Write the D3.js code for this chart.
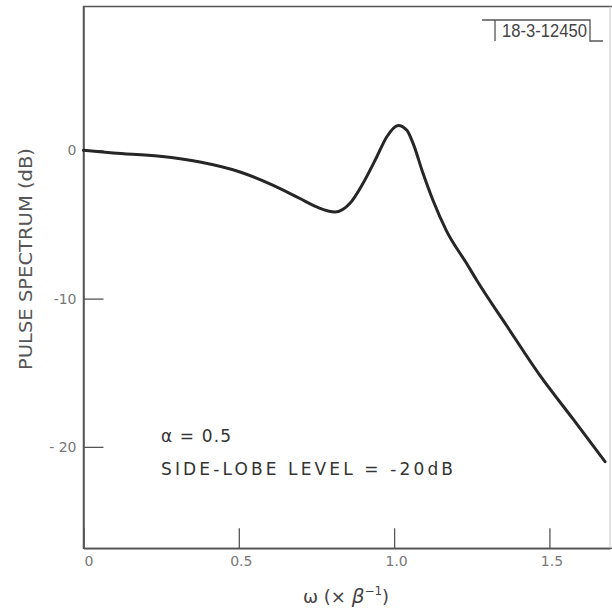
<!DOCTYPE html>
<html>
<head>
<meta charset="utf-8">
<script src="https://cdn.jsdelivr.net/npm/d3@7"></script>
<style>
  body { margin: 0; background: #fff; }
  svg { display: block; }
</style>
</head>
<body>
<svg id="chart" width="612" height="611"></svg>
<script>
// values
const omega = [0, 0.096, 0.246, 0.375, 0.504, 0.611, 0.697, 0.751, 0.81, 0.858, 0.9, 0.944, 0.976, 1.013, 1.041, 1.061, 1.093, 1.125, 1.169, 1.234, 1.266, 1.363, 1.47, 1.577, 1.679];
const spectrum = [0, -0.18, -0.4, -0.79, -1.46, -2.36, -3.25, -3.82, -4.16, -3.57, -2.22, -0.45, 0.9, 1.68, 1.35, 0.47, -1.55, -3.37, -5.45, -7.65, -8.76, -11.85, -15.2, -18.15, -21.0];

const xTicks = [0, 0.5, 1.0, 1.5];
const xTickLabels = ["0", "0.5", "1.0", "1.5"];
const yTicks = [0, -10, -20];
const yTickLabels = ["0", "-10", "- 20"];

const svg = d3.select("#chart");
const width = 612, height = 611;
const font = "DejaVu Sans, sans-serif";

const x = d3.scaleLinear().domain([0, 1.695]).range([83.5, 610]);
const y = d3.scaleLinear().domain([-26.84, 9.7]).range([548.3, 6.5]);

const axisColor = "#555";

// frame of the plot (its right side runs off the page)
svg.append("rect")
  .attr("x", x(0))
  .attr("y", y(9.7))
  .attr("width", 700)
  .attr("height", y(-26.84) - y(9.7))
  .attr("fill", "none")
  .attr("stroke", axisColor)
  .attr("stroke-width", 1.5);
svg.append("line")
  .attr("x1", x(1.695)).attr("x2", x(1.695))
  .attr("y1", y(9.7)).attr("y2", y(-26.84))
  .attr("stroke", "#c8c8c8")
  .attr("stroke-width", 1);

// x axis, ticks pointing up into the plot
const xAxis = d3.axisBottom(x)
  .tickValues(xTicks)
  .tickFormat((d, i) => xTickLabels[i])
  .tickSizeInner(-20)
  .tickSizeOuter(0)
  .tickPadding(8);

const gx = svg.append("g")
  .attr("transform", `translate(0,${y(-26.84)})`)
  .call(xAxis);
gx.select(".domain").attr("stroke", axisColor).attr("stroke-width", 1.5);
gx.selectAll(".tick line").attr("stroke", axisColor).attr("stroke-width", 1.3);
gx.selectAll(".tick text")
  .attr("font-family", font)
  .attr("font-size", 14)
  .attr("fill", "#777")
  .attr("dx", (d, i) => i === 0 ? 5 : 2);

// y axis, ticks pointing right into the plot
const yAxis = d3.axisLeft(y)
  .tickValues(yTicks)
  .tickFormat((d, i) => yTickLabels[i])
  .tickSizeInner(-20)
  .tickSizeOuter(0)
  .tickPadding(7);

const gy = svg.append("g")
  .attr("transform", `translate(${x(0)},0)`)
  .call(yAxis);
gy.select(".domain").attr("stroke", axisColor).attr("stroke-width", 1.5);
gy.selectAll(".tick line").attr("stroke", axisColor).attr("stroke-width", 1.3);
gy.selectAll(".tick text")
  .attr("font-family", font)
  .attr("font-size", 14)
  .attr("fill", "#777");

// the spectrum curve
const points = omega.map((w, i) => [w, spectrum[i]]);
const line = d3.line()
  .x(d => x(d[0]))
  .y(d => y(d[1]))
  .curve(d3.curveMonotoneX);

svg.append("path")
  .datum(points)
  .attr("d", line)
  .attr("fill", "none")
  .attr("stroke", "#262626")
  .attr("stroke-width", 3)
  .attr("stroke-linejoin", "round")
  .attr("stroke-linecap", "round");

// axis titles
svg.append("text")
  .attr("transform", `translate(32,259) rotate(-90)`)
  .attr("text-anchor", "middle")
  .attr("font-family", font)
  .attr("font-size", 18)
  .attr("fill", "#555")
  .attr("textLength", 222)
  .attr("lengthAdjust", "spacingAndGlyphs")
  .text("PULSE SPECTRUM  (dB)");

const xt = svg.append("text")
  .attr("x", 303)
  .attr("y", 603)
  .attr("font-family", font)
  .attr("font-size", 18)
  .attr("fill", "#444");
xt.append("tspan").text("ω  (× ");
xt.append("tspan").attr("font-style", "italic").attr("font-size", 20).text("β");
xt.append("tspan").attr("font-size", 12).attr("dy", -8).text("−1");
xt.append("tspan").attr("dy", 8).text(")");

// annotations
svg.append("text")
  .attr("x", 161)
  .attr("y", 442)
  .attr("font-family", font)
  .attr("font-size", 17)
  .attr("fill", "#333")
  .attr("textLength", 70)
  .attr("lengthAdjust", "spacing")
  .text("α = 0.5");

svg.append("text")
  .attr("x", 161)
  .attr("y", 475)
  .attr("font-family", font)
  .attr("font-size", 17)
  .attr("fill", "#333")
  .attr("textLength", 292)
  .attr("lengthAdjust", "spacing")
  .text("SIDE-LOBE LEVEL = -20dB");

// figure number box
svg.append("path")
  .attr("d", "M482,20 H590 V41 H603 M495,20 V41")
  .attr("fill", "none")
  .attr("stroke", "#555")
  .attr("stroke-width", 1.3);

svg.append("text")
  .attr("x", 502)
  .attr("y", 37)
  .attr("font-family", "Liberation Sans, sans-serif")
  .attr("font-size", 18)
  .attr("fill", "#444")
  .attr("textLength", 85)
  .attr("lengthAdjust", "spacingAndGlyphs")
  .text("18-3-12450");
</script>
</body>
</html>
